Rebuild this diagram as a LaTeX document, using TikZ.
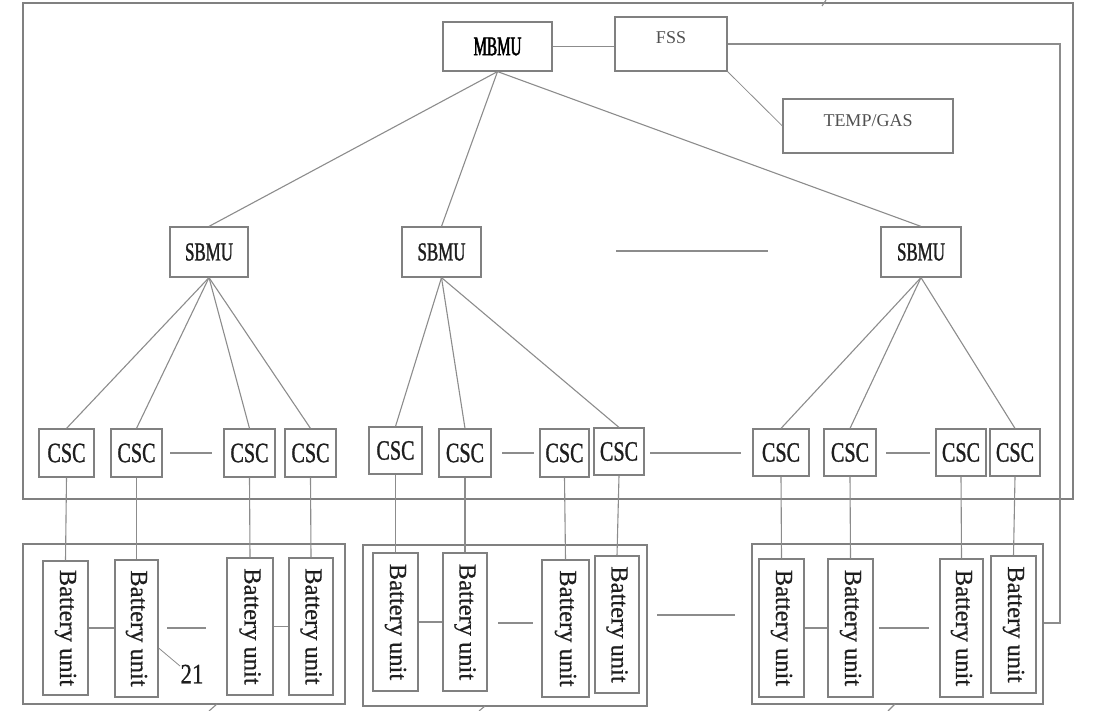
\documentclass[tikz,border=0pt]{standalone}
\usepackage{fontspec}
\setmainfont{Liberation Serif}
\newfontfamily\cscf[FakeStretch=0.72,FakeBold=1]{Liberation Serif}
\newfontfamily\sbmuf[FakeStretch=0.65,FakeBold=1.2]{Liberation Serif}
\newfontfamily\numf[FakeStretch=0.82,FakeBold=0.6]{Liberation Serif}
\newfontfamily\buf[FakeBold=0.6]{Liberation Serif}
\newfontfamily\condbf[FakeStretch=0.56,FakeBold=1.8]{Liberation Serif}
\definecolor{linec}{HTML}{8C8C8C}
\definecolor{boxc}{HTML}{808080}
\definecolor{txtc}{HTML}{1E1E1E}
\definecolor{greytxt}{HTML}{505050}
\tikzset{
  wire/.style={draw=linec, line width=1.1pt},
  box/.style={draw=boxc, line width=1.2pt, rectangle, inner sep=0pt, text=txtc},
  cscbox/.style={box, minimum height=48pt, font=\cscf\fontsize{28}{28}\selectfont},
  sbmubox/.style={box, minimum height=50pt, font=\sbmuf\fontsize{26}{26}\selectfont},
  bubox/.style={box, minimum height=137pt, font=\buf\fontsize{24.5}{24.5}\selectfont},
  grp/.style={draw=boxc, line width=1.2pt, rectangle, inner sep=0pt},
  smalltxt/.style={inner sep=0pt, text=greytxt, font=\fontsize{18}{18}\selectfont},
}
\begin{document}
\begin{tikzpicture}[x=1pt,y=-1pt]
\useasboundingbox (0,0) rectangle (1097,711);
% outer frame
\draw[grp] (23,3) rectangle (1073,499);
\draw[wire] (826,0) -- (822,6);
% top level
\node[box, minimum width=109pt, minimum height=49pt, text=black, font=\condbf\fontsize{27}{27}\selectfont] (mbmu) at (497.5,46.5) {MBMU};
\node[box, minimum width=112pt, minimum height=54pt] (fss) at (671,44) {};
\node[smalltxt] (fsst) at (671,38) {FSS};
\node[box, minimum width=170pt, minimum height=54pt] (temp) at (868,126) {};
\node[smalltxt] (tempt) at (868,121) {TEMP/GAS};
\draw[wire] (mbmu.east) -- (mbmu.east -| fss.west);
\draw[wire, line width=0.8pt] (fss.south east) -- (temp.west);
\coordinate (cr) at (1060,623);
% SBMU
\node[sbmubox, minimum width=78pt] (s1) at (209,252) {SBMU};
\node[sbmubox, minimum width=79pt] (s2) at (441.5,252) {SBMU};
\node[sbmubox, minimum width=80pt] (s3) at (921,252) {SBMU};
\foreach \s in {s1,s2,s3} \draw[wire] (mbmu.south) -- (\s.north);
\draw[wire] (616,251) -- (768,251);
% CSC
\node[cscbox, minimum width=55pt] (c1) at (66.5,453) {CSC};
\node[cscbox, minimum width=51pt] (c2) at (136.5,453) {CSC};
\node[cscbox, minimum width=51pt] (c3) at (249.5,453) {CSC};
\node[cscbox, minimum width=51pt] (c4) at (310.5,453) {CSC};
\node[cscbox, minimum width=53pt, minimum height=47pt] (c5) at (395.5,450.5) {CSC};
\node[cscbox, minimum width=52pt] (c6) at (465,453) {CSC};
\node[cscbox, minimum width=49pt] (c7) at (564.5,453) {CSC};
\node[cscbox, minimum width=50pt, minimum height=47pt] (c8) at (619,451.5) {CSC};
\node[cscbox, minimum width=56pt, minimum height=47pt] (c9) at (781,452.5) {CSC};
\node[cscbox, minimum width=52pt, minimum height=47pt] (c10) at (850,452.5) {CSC};
\node[cscbox, minimum width=50pt, minimum height=47pt] (c11) at (961,452.5) {CSC};
\node[cscbox, minimum width=50pt, minimum height=47pt] (c12) at (1015,452.5) {CSC};
\foreach \c in {c1,c2,c3,c4} \draw[wire] (s1.south) -- (\c.north);
\foreach \c in {c5,c6,c8} \draw[wire] (s2.south) -- (\c.north);
\foreach \c in {c9,c10,c12} \draw[wire] (s3.south) -- (\c.north);
\draw[wire] (170,453) -- (212,453);
\draw[wire] (502,453) -- (534,453);
\draw[wire] (650,453) -- (741,453);
\draw[wire] (886,453) -- (930,453);
% battery groups
\node[grp, minimum width=322pt, minimum height=160pt] (g1) at (184,624) {};
\node[grp, minimum width=284pt, minimum height=161pt] (g2) at (505,625.5) {};
\node[grp, minimum width=291pt, minimum height=160pt] (g3) at (897.5,624) {};
\draw[wire] (fss.east) -| (cr) -- (cr -| g3.east);
% battery units
\node[bubox, minimum width=45pt, minimum height=134pt] (b1) at (65.5,628) {\rotatebox{-90}{Battery unit}};
\node[bubox, minimum width=43pt] (b2) at (136.5,628.5) {\rotatebox{-90}{Battery unit}};
\node[bubox, minimum width=46pt] (b3) at (250,626.5) {\rotatebox{-90}{Battery unit}};
\node[bubox, minimum width=44pt] (b4) at (311,626.5) {\rotatebox{-90}{Battery unit}};
\node[bubox, minimum width=45pt, minimum height=138pt] (b5) at (395.5,622) {\rotatebox{-90}{Battery unit}};
\node[bubox, minimum width=44pt, minimum height=138pt] (b6) at (465,622) {\rotatebox{-90}{Battery unit}};
\node[bubox, minimum width=47pt] (b7) at (565.5,628.5) {\rotatebox{-90}{Battery unit}};
\node[bubox, minimum width=44pt] (b8) at (617,624.5) {\rotatebox{-90}{Battery unit}};
\node[bubox, minimum width=45pt, minimum height=138pt] (b9) at (781.5,628) {\rotatebox{-90}{Battery unit}};
\node[bubox, minimum width=45pt, minimum height=138pt] (b10) at (850.5,628) {\rotatebox{-90}{Battery unit}};
\node[bubox, minimum width=43pt, minimum height=138pt] (b11) at (961.5,628) {\rotatebox{-90}{Battery unit}};
\node[bubox, minimum width=45pt] (b12) at (1013.5,624.5) {\rotatebox{-90}{Battery unit}};
\foreach \i in {1,...,12} \draw[wire] (c\i.south) -- (b\i.north);
\draw[wire] (b1.east) -- (b1.east -| b2.west);
\draw[wire] (b3.east) -- (b3.east -| b4.west);
\draw[wire] (b5.east) -- (b5.east -| b6.west);
\draw[wire] (b9.east) -- (b9.east -| b10.west);
\draw[wire] (167,628) -- (206,628);
\draw[wire] (498,623) -- (533,623);
\draw[wire] (657,615) -- (735,615);
\draw[wire] (879,628) -- (929,628);
% label 21
\node[inner sep=0pt, text=txtc, font=\numf\fontsize{28}{28}\selectfont] (n21) at (192,674) {21};
\draw[wire, line width=0.8pt] ([yshift=-19.5pt]b2.east) -- (180,666);
% cut leader lines at bottom
\draw[wire] (217,704) -- (209,711);
\draw[wire] (485,706) -- (479,711);
\draw[wire] (895,704) -- (888,711);
\end{tikzpicture}
\end{document}
